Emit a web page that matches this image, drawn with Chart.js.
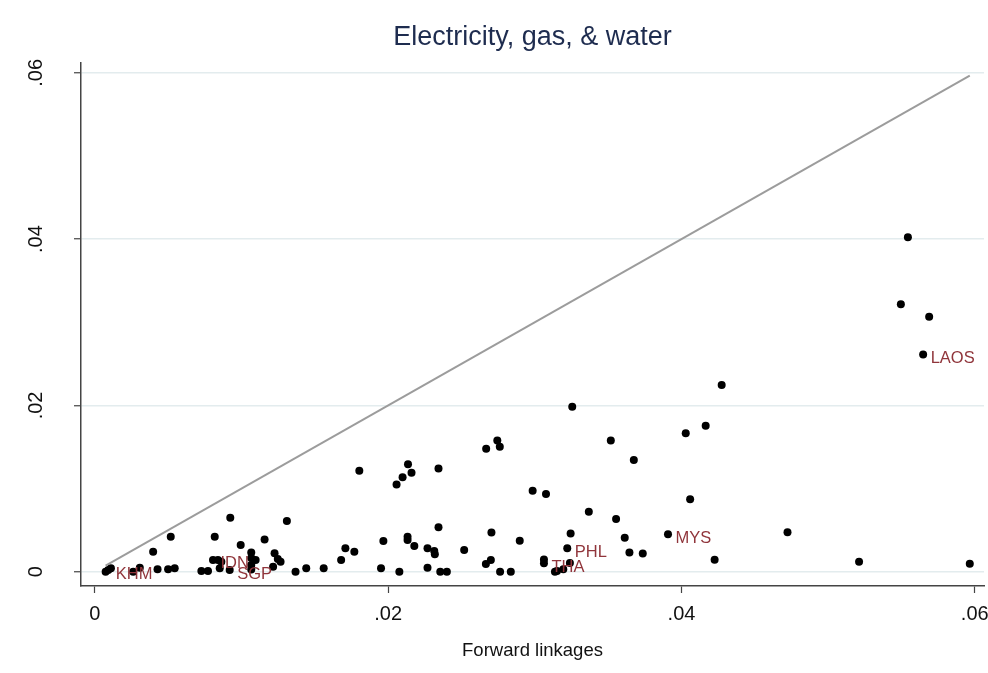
<!DOCTYPE html>
<html>
<head>
<meta charset="utf-8">
<script src="https://cdn.jsdelivr.net/npm/chart.js@4.4.1/dist/chart.umd.min.js"></script>
<style>
  html, body { margin: 0; padding: 0; background: #ffffff; }
  #wrap { width: 988px; height: 673px; }
</style>
</head>
<body>
<div id="wrap"><canvas id="scatter"></canvas></div>
<script>
// forward linkages (x) and backward linkages (y) for each country-sector
const fwd = [0.00073,0.00091,0.00109,0.00261,0.00306,0.00397,0.00427,0.00499,0.00517,0.00544,
  0.00726,0.00771,0.00805,0.00817,0.00839,0.00862,0.00851,0.00919,0.00923,0.00994,
  0.01066,0.01066,0.01096,0.01066,0.01066,0.01157,0.01215,0.01225,0.01247,0.01266,
  0.01309,0.01368,0.01441,0.0156,0.01679,0.01708,0.01769,0.01803,0.01951,0.01967,
  0.02057,0.02076,0.02098,0.02132,0.02132,0.02135,0.02159,0.02178,0.02268,0.02268,
  0.02314,0.02318,0.02343,0.02343,0.02355,0.024,0.02518,0.02666,0.02668,0.027,
  0.02704,0.02744,0.02761,0.02763,0.02836,0.02897,0.02985,0.03062,0.03062,0.03076,
  0.03137,0.03151,0.03194,0.03239,0.03221,0.03244,0.03255,0.03368,0.03518,0.03554,
  0.03613,0.03645,0.03675,0.03736,0.03908,0.04029,0.04059,0.04165,0.04226,0.04274,
  0.04723,0.05211,0.05496,0.05544,0.05648,0.05689,0.05966];
const bwd = [0,0.0002,0.00041,0,0.00048,0.0024,0.00029,0.00029,0.00421,0.00041,
  0.00008,0.00008,0.00141,0.00421,0.00141,0.0012,0.00041,0.0002,0.00649,0.00321,
  0.00231,0.00165,0.00141,0.00081,0.00026,0.00387,0.0006,0.00221,0.00153,0.0012,
  0.00609,0,0.00041,0.00041,0.00141,0.00281,0.0024,0.01214,0.00041,0.00369,
  0.0105,0,0.01135,0.00421,0.00381,0.01291,0.0119,0.00309,0.00281,0.00048,
  0.00249,0.00209,0.0124,0.00534,0,0,0.00261,0.00093,0.01478,0.00141,
  0.00471,0.01579,0.01502,0,0,0.00371,0.00974,0.00147,0.00101,0.00934,
  0,0.00008,0.0003,0.00105,0.00281,0.00459,0.01983,0.00721,0.01579,0.00633,
  0.00409,0.00231,0.01343,0.00219,0.0045,0.01665,0.00871,0.01755,0.00143,0.02246,
  0.00474,0.0012,0.03218,0.04023,0.02613,0.03067,0.00095];

// which points carry a country label
const tagIndex = [1, 12, 17, 68, 74, 84, 94];
const tagText = ['KHM', 'IDN', 'SGP', 'THA', 'PHL', 'MYS', 'LAOS'];

// 45 degree reference line, from smallest to largest x
const diagFrom = 0.00073;
const diagTo = 0.05966;

const xTicks = [0, 0.02, 0.04, 0.06];
const xTickLabels = ['0', '.02', '.04', '.06'];
const yTicks = [0, 0.02, 0.04, 0.06];
const yTickLabels = ['0', '.02', '.04', '.06'];

const FONT = '"Liberation Sans", Arial, Helvetica, sans-serif';

const points = fwd.map((x, i) => ({ x: x, y: bwd[i] }));

//draw the country names next to their markers
const tagPlugin = {
    id: 'tags',
    afterDatasetsDraw(chart) {
        const meta = chart.getDatasetMeta(1);
        const ctx = chart.ctx;
        ctx.save();
        ctx.font = '16.5px ' + FONT;
        ctx.fillStyle = '#90353b';
        ctx.textAlign = 'left';
        ctx.textBaseline = 'alphabetic';
        tagIndex.forEach((idx, k) => {
            const el = meta.data[idx];
            ctx.fillText(tagText[k], el.x + 7.5, el.y + 8.5);
        });
        ctx.restore();
    }
};

new Chart(document.getElementById('scatter').getContext('2d'), {
    type: 'scatter',
    data: {
        datasets: [
            {
                type: 'line',
                data: [{ x: diagFrom, y: diagFrom }, { x: diagTo, y: diagTo }],
                borderColor: '#9c9c9c',
                borderWidth: 2,
                pointRadius: 0,
                fill: false
            },
            {
                data: points,
                backgroundColor: '#000000',
                borderWidth: 0,
                pointRadius: 4,
                pointHoverRadius: 4
            }
        ]
    },
    options: {
        responsive: true,
        maintainAspectRatio: false,
        animation: false,
        layout: { padding: { top: 0, right: 2, bottom: 0, left: 0 } },
        plugins: {
            legend: { display: false },
            tooltip: { enabled: false },
            title: {
                display: true,
                fullSize: false, // center over the plot region like Stata
                text: 'Electricity, gas, & water',
                color: '#1e2c4f',
                font: { family: FONT, size: 27, weight: 'normal' },
                padding: { top: 21, bottom: 9 }
            }
        },
        scales: {
            x: {
                type: 'linear',
                min: -0.00095,
                max: 0.06063,
                border: { color: '#444444', width: 1.5 },
                grid: { drawOnChartArea: false, drawTicks: true, tickLength: 7, tickColor: '#444444', tickWidth: 1.2 },
                afterBuildTicks: s => { s.ticks = xTicks.map(v => ({ value: v })); },
                afterFit: s => { s.height = 87; s.paddingLeft = 0; s.paddingRight = 0; },
                ticks: {
                    autoSkip: false,
                    maxRotation: 0,
                    padding: 9,
                    color: '#111111',
                    font: { family: FONT, size: 20 },
                    callback: (v, i) => xTickLabels[i]
                },
                title: {
                    display: true,
                    text: 'Forward linkages',
                    color: '#111111',
                    font: { family: FONT, size: 18.5 },
                    padding: { top: 0, bottom: 11 }
                }
            },
            y: {
                type: 'linear',
                min: -0.00172,
                max: 0.06126,
                border: { color: '#444444', width: 1.5 },
                grid: { color: '#e3ecee', lineWidth: 1.5, drawTicks: true, tickLength: 7, tickColor: '#444444', tickWidth: 1.2 },
                afterBuildTicks: s => { s.ticks = yTicks.map(v => ({ value: v })); },
                afterFit: s => { s.width = 81; s.paddingTop = 0; s.paddingBottom = 0; },
                ticks: {
                    autoSkip: false,
                    minRotation: 90,
                    maxRotation: 90,
                    crossAlign: 'center',
                    padding: 24,
                    color: '#111111',
                    font: { family: FONT, size: 20 },
                    callback: (v, i) => yTickLabels[i]
                }
            }
        }
    },
    plugins: [tagPlugin]
});
</script>
</body>
</html>
